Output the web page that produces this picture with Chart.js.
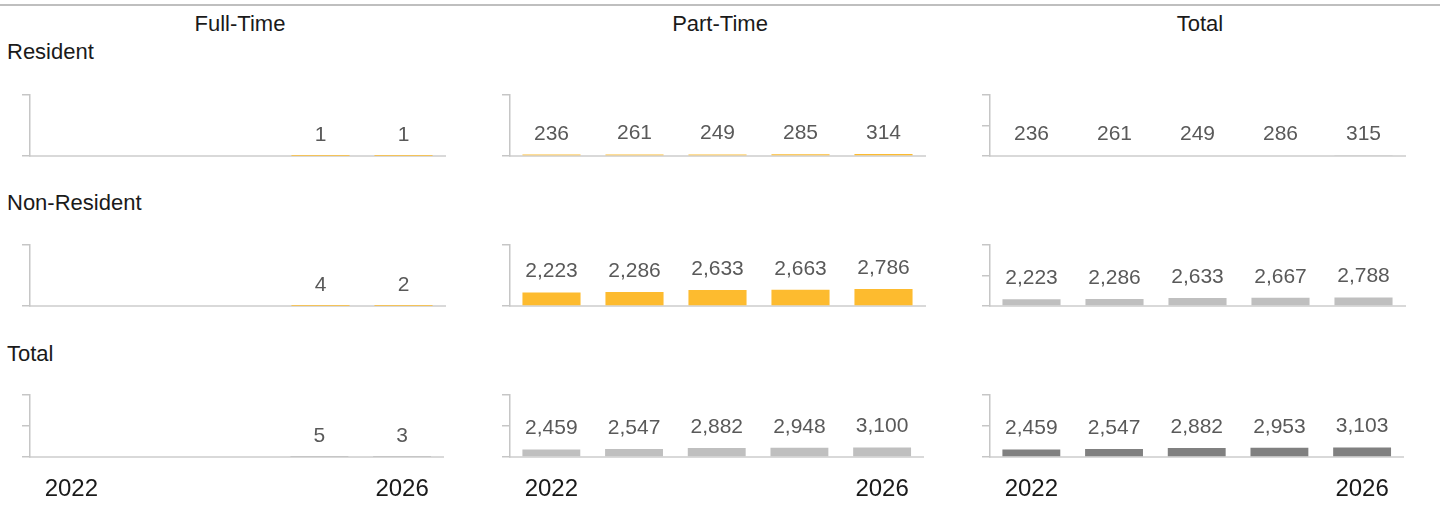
<!DOCTYPE html>
<html><head><meta charset="utf-8">
<script src="https://cdn.jsdelivr.net/npm/chart.js@4.4.0/dist/chart.umd.min.js"></script>
<style>
html,body{margin:0;padding:0;background:#fff;width:1448px;height:506px;overflow:hidden;font-family:"Liberation Sans",Arial,sans-serif;}
#topline{position:absolute;left:0;top:4px;width:1440px;height:2px;background:#bfbfbf;}
.colh{position:absolute;top:13px;width:480px;text-align:center;font-size:22px;line-height:22px;color:#1a1a1a;}
.rowh{position:absolute;left:7px;font-size:22px;line-height:22px;color:#1a1a1a;}
.panel{position:absolute;}
</style></head><body>
<div id="topline"></div>
<div id="root"></div>
<script>
// ---- data ----
const years = ['2022','2023','2024','2025','2026'];
const columnNames = ['Full-Time','Part-Time','Total'];
const rowNames = ['Resident','Non-Resident','Total'];

const fullTimeResident    = [null, null, null, 1, 1];
const fullTimeNonResident = [null, null, null, 4, 2];
const fullTimeTotal       = [null, null, null, 5, 3];

const partTimeResident    = [236, 261, 249, 285, 314];
const partTimeNonResident = [2223, 2286, 2633, 2663, 2786];
const partTimeTotal       = [2459, 2547, 2882, 2948, 3100];

const totalResident       = [236, 261, 249, 286, 315];
const totalNonResident    = [2223, 2286, 2633, 2667, 2788];
const totalTotal          = [2459, 2547, 2882, 2953, 3103];

// y-axis maximum per panel [row][col]
const yAxisMax = [
  [10000, 10000, 20000],
  [10000, 10000, 20000],
  [20000, 20000, 20000]
];
const yTickStep = 10000;

const panelData = [
  [fullTimeResident, partTimeResident, totalResident],
  [fullTimeNonResident, partTimeNonResident, totalNonResident],
  [fullTimeTotal, partTimeTotal, totalTotal]
];

const ORANGE = '#FDBB2F', LIGHT = '#BFBFBF', DARK = '#808080';
function barColor(r, c){
  if (r === 2 && c === 2) return DARK;
  if (r === 2 || c === 2) return LIGHT;
  return ORANGE;
}

// ---- labels plugin ----
const valueLabels = {
  id: 'valueLabels',
  afterDatasetsDraw(chart){
    const ctx = chart.ctx;
    const meta = chart.getDatasetMeta(0);
    const data = chart.data.datasets[0].data;
    ctx.save();
    ctx.font = '21px "Liberation Sans", Arial, sans-serif';
    ctx.fillStyle = '#595959';
    ctx.textAlign = 'center';
    ctx.textBaseline = 'alphabetic';
    meta.data.forEach((bar, i) => {
      const v = data[i];
      if (v == null || !isFinite(bar.y)) return;
      ctx.fillText(v.toLocaleString('en-US'), bar.x, bar.y - 15);
    });
    ctx.restore();
  }
};

// ---- headers ----
const root = document.getElementById('root');
columnNames.forEach((n, c) => {
  const d = document.createElement('div');
  d.className = 'colh'; d.textContent = n;
  d.style.left = (c * 480) + 'px';
  root.appendChild(d);
});
const rowLabelTops = [41, 192, 343];
rowNames.forEach((n, r) => {
  const d = document.createElement('div');
  d.className = 'rowh'; d.textContent = n;
  d.style.top = rowLabelTops[r] + 'px';
  root.appendChild(d);
});

// ---- panels ----
const areaTops = [95, 245, 395];
const areaHeights = [61, 61, 63];
const PAD_T = 3, PAD_B = 2;
for (let r = 0; r < 3; r++){
  for (let c = 0; c < 3; c++){
    const last = r === 2;
    const div = document.createElement('div');
    div.className = 'panel';
    const w = 425, h = PAD_T + areaHeights[r] + (last ? 61 : PAD_B);
    div.style.left = (22 + 480 * c) + 'px';
    div.style.top = (areaTops[r] - PAD_T) + 'px';
    div.style.width = w + 'px';
    div.style.height = h + 'px';
    const cv = document.createElement('canvas');
    div.appendChild(cv);
    root.appendChild(div);
    new Chart(cv, {
      type: 'bar',
      data: {
        labels: years,
        datasets: [{
          data: panelData[r][c],
          backgroundColor: barColor(r, c),
          borderWidth: 0,
          barPercentage: 0.7,
          categoryPercentage: 1.0
        }]
      },
      options: {
        responsive: true,
        maintainAspectRatio: false,
        animation: false,
        events: [],
        layout: { padding: { top: PAD_T, bottom: last ? 0 : PAD_B, left: 0, right: 2 } },
        plugins: { legend: { display: false }, tooltip: { enabled: false }, title: { display: false } },
        scales: {
          x: {
            grid: { display: false, drawTicks: false },
            border: { display: true, color: '#d9d9d9', width: 2 },
            ticks: {
              display: last,
              autoSkip: false,
              maxRotation: 0,
              padding: 18,
              color: '#1a1a1a',
              font: { family: '"Liberation Sans", Arial, sans-serif', size: 24 },
              callback: function(v, i, t){ return (i === 0 || i === t.length - 1) ? this.getLabelForValue(v) : ''; }
            }
          },
          y: {
            min: 0,
            max: yAxisMax[r][c],
            grid: { display: true, drawOnChartArea: false, drawTicks: true, tickLength: 8, color: '#c6c6c6', lineWidth: 1.5 },
            border: { display: true, color: '#c6c6c6', width: 1.5 },
            ticks: { display: false, stepSize: yTickStep }
          }
        }
      },
      plugins: [valueLabels]
    });
  }
}
</script>
</body></html>
